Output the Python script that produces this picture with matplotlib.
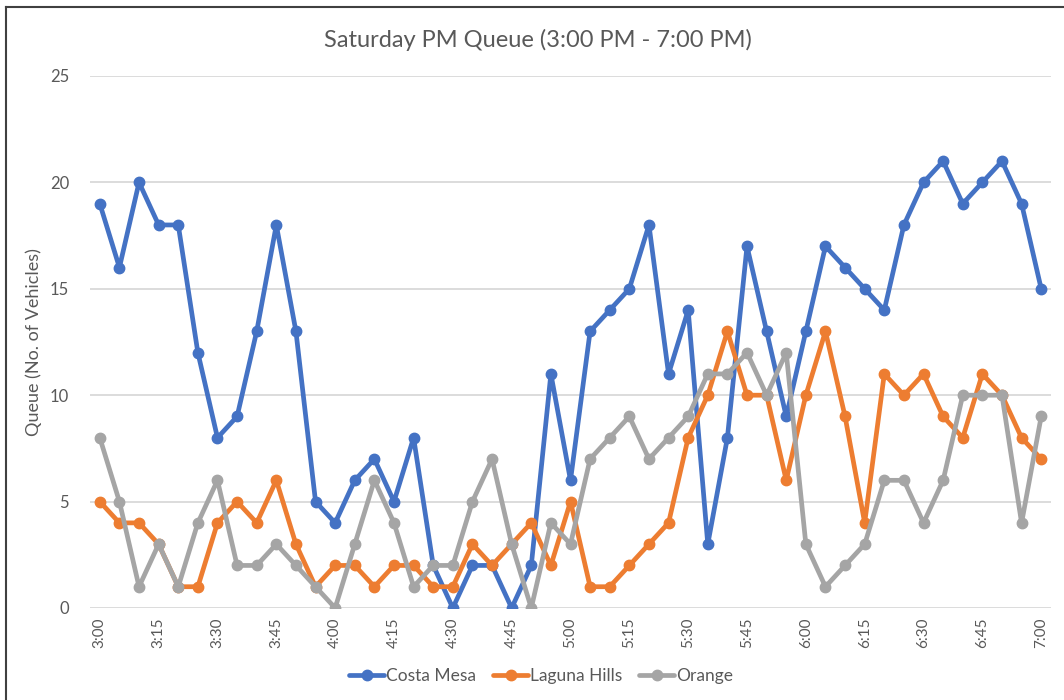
import matplotlib
matplotlib.use("Agg")
import matplotlib.pyplot as plt
from matplotlib.lines import Line2D

times = [
    "3:00", "3:05", "3:10", "3:15", "3:20", "3:25", "3:30", "3:35", "3:40", "3:45", "3:50", "3:55",
    "4:00", "4:05", "4:10", "4:15", "4:20", "4:25", "4:30", "4:35", "4:40", "4:45", "4:50", "4:55",
    "5:00", "5:05", "5:10", "5:15", "5:20", "5:25", "5:30", "5:35", "5:40", "5:45", "5:50", "5:55",
    "6:00", "6:05", "6:10", "6:15", "6:20", "6:25", "6:30", "6:35", "6:40", "6:45", "6:50", "6:55",
    "7:00",
]
costa_mesa = [
    19, 16, 20, 18, 18, 12, 8, 9, 13, 18, 13, 5,
    4, 6, 7, 5, 8, 2, 0, 2, 2, 0, 2, 11,
    6, 13, 14, 15, 18, 11, 14, 3, 8, 17, 13, 9,
    13, 17, 16, 15, 14, 18, 20, 21, 19, 20, 21, 19,
    15,
]
laguna_hills = [
    5, 4, 4, 3, 1, 1, 4, 5, 4, 6, 3, 1,
    2, 2, 1, 2, 2, 1, 1, 3, 2, 3, 4, 2,
    5, 1, 1, 2, 3, 4, 8, 10, 13, 10, 10, 6,
    10, 13, 9, 4, 11, 10, 11, 9, 8, 11, 10, 8,
    7,
]
orange = [
    8, 5, 1, 3, 1, 4, 6, 2, 2, 3, 2, 1,
    0, 3, 6, 4, 1, 2, 2, 5, 7, 3, 0, 4,
    3, 7, 8, 9, 7, 8, 9, 11, 11, 12, 10, 12,
    3, 1, 2, 3, 6, 6, 4, 6, 10, 10, 10, 4,
    9,
]
series_names = ["Costa Mesa", "Laguna Hills", "Orange"]
series_colors = ["#4472C4", "#ED7D31", "#A5A5A5"]

plt.rcParams["font.family"] = ["Lato", "DejaVu Sans"]
text_color = "#595959"

fig = plt.figure(figsize=(10.64, 7.0), dpi=100)
ax = fig.add_axes([90 / 1064, 1 - 608 / 700, (1051 - 90) / 1064, (608 - 76) / 700])

x = list(range(len(times)))
for values, name, color in zip([costa_mesa, laguna_hills, orange], series_names, series_colors):
    ax.plot(x, values, color=color, linewidth=3.4, marker="o", markersize=7.5,
            label=name, solid_joinstyle="round", solid_capstyle="round", zorder=3)

ax.set_xlim(-0.5, len(times) - 0.5)
ax.set_ylim(0, 25)
ax.set_yticks(range(0, 26, 5))
ax.set_xticks(x[::3])
ax.set_xticklabels(times[::3], rotation=90, fontsize=11, color=text_color)
ax.tick_params(axis="y", labelsize=12, colors=text_color, length=0, pad=15)
ax.tick_params(axis="x", length=0, pad=7)
ax.grid(axis="y", color="#D9D9D9", linewidth=1.3)
ax.set_axisbelow(True)
for spine in ax.spines.values():
    spine.set_visible(False)

ax.set_ylabel("Queue (No. of Vehicles)", fontsize=13, color=text_color, labelpad=6)
fig.text(538 / 1064, 1 - 40 / 700, "Saturday PM Queue (3:00 PM - 7:00 PM)",
         ha="center", va="center", fontsize=17, color=text_color)

fig.legend(loc="center", bbox_to_anchor=(541 / 1064, 1 - 676 / 700), ncol=3, frameon=False,
           fontsize=12.5, labelcolor=text_color, handlelength=2.0, handletextpad=0.1,
           columnspacing=1.0)

# chart frame (left and top edges are visible in the screenshot)
fig.add_artist(Line2D([6 / 1064, 6 / 1064], [0, 1 - 7 / 700], transform=fig.transFigure,
                      color="#404040", linewidth=1.5))
fig.add_artist(Line2D([6 / 1064, 1], [1 - 7 / 700, 1 - 7 / 700], transform=fig.transFigure,
                      color="#404040", linewidth=1.5))

fig.savefig("out.png", dpi=100)
plt.close(fig)
